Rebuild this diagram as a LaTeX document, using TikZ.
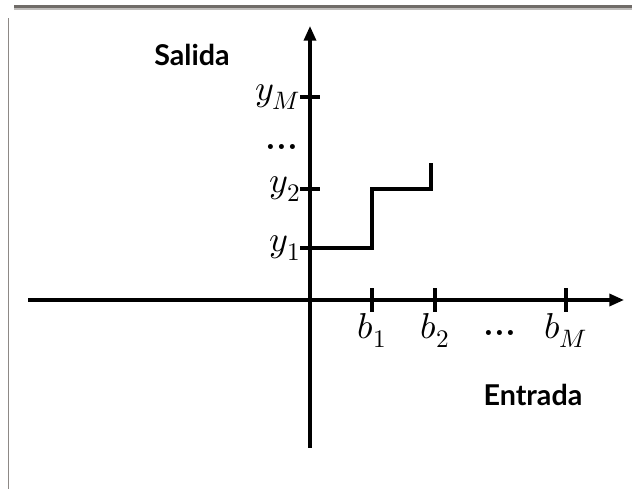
\documentclass[tikz,border=0pt]{standalone}
\usepackage{unicode-math}
\setmathfont{Latin Modern Math}
\setsansfont{Lato}
\usetikzlibrary{arrows.meta, positioning}
\definecolor{framegray}{RGB}{112, 108, 104}

\begin{document}
\begin{tikzpicture}[x=0.75pt, y=0.75pt,
  axis/.style={line width=2.5pt, -{Triangle[length=11pt, width=9pt]}},
  tick/.style={line width=2.3pt},
  stair/.style={line width=2.4pt},
  lbl/.style={font=\fontsize{27}{30}\selectfont, inner sep=2pt},
  dotlbl/.style={font=\bfseries\fontsize{26}{28}\selectfont, inner sep=1pt},
  title/.style={font=\sffamily\bfseries\fontsize{21.5}{24}\selectfont},
]
\useasboundingbox (0,0) rectangle (632,489);
% frame edges
\draw[framegray!45, line width=2pt] (14,480) -- (632,480);
\draw[framegray, line width=2.6pt] (14,482.5) -- (632,482.5);
\draw[framegray!80, line width=1.3pt] (8.5,0) -- (8.5,471);

% axes
\coordinate (O) at (310,189);
\coordinate (xl) at (28,189);
\coordinate (xr) at (624,189);
\coordinate (yb) at (310,41);
\coordinate (yt) at (310,463);
\draw[axis] (xl) -- (xr);
\draw[axis] (yb) -- (yt);

% ticks on the output axis
\coordinate (y1) at (310,241);
\coordinate (y2) at (310,300);
\coordinate (yM) at (310,392);
\foreach \t in {y1, y2, yM}
  \draw[tick] ([xshift=-7.5pt]\t) -- ([xshift=7.5pt]\t);
\node[lbl, left=5pt of y1] (ly1) {$y_1$};
\node[lbl, left=5pt of y2] (ly2) {$y_2$};
\node[lbl, left=5pt of yM] (lyM) {$y_M$};
\node[dotlbl] (ldy) at (282,342) {...};

% ticks on the input axis
\coordinate (b1) at (372,189);
\coordinate (b2) at (435,189);
\coordinate (bM) at (566,189);
\foreach \t in {b1, b2, bM}
  \draw[tick] ([yshift=-9pt]\t) -- ([yshift=9pt]\t);
\node[lbl, below=8pt of b1] (lb1) {$b_1$};
\node[lbl, below=8pt of b2] (lb2) {$b_2$};
\node[lbl, below=8pt of bM] (lbM) {$b_M$};
\node[dotlbl] (ldb) at (500,156) {...};

% staircase
\coordinate (s1) at (y1 -| b1);
\coordinate (s3) at (431,326);
\draw[stair] (y1) -- (s1) |- (y2 -| s3) -- (s3);

% axis names
\node[title] (salida) at (192,434) {Salida};
\node[title] (entrada) at (533,94) {Entrada};
\end{tikzpicture}
\end{document}
